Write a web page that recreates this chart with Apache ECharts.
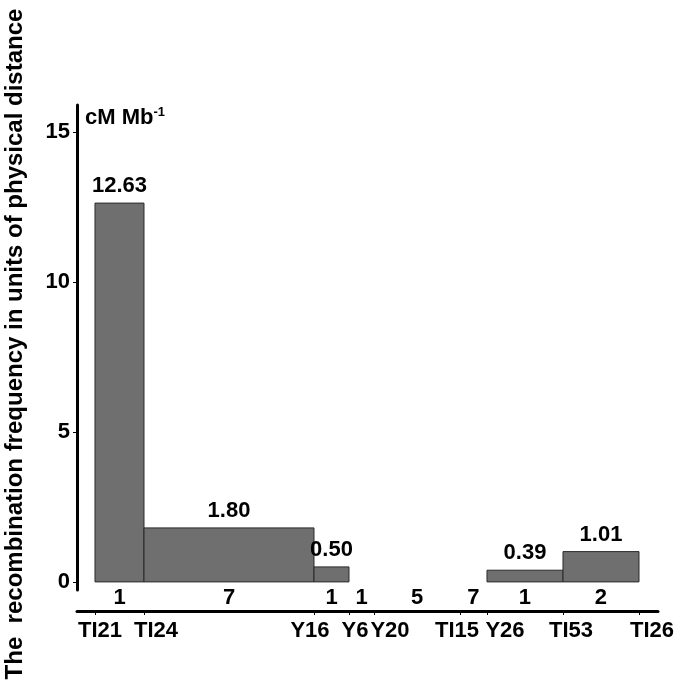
<!DOCTYPE html>
<html><head><meta charset="utf-8">
<script src="https://cdn.jsdelivr.net/npm/echarts@6/dist/echarts.min.js"></script>
<style>html,body{margin:0;padding:0;background:#fff}#c{width:677px;height:687px}</style>
</head><body><div id="c"></div>
<script>
// ---- data ----
const markers = ['TI21','TI24','Y16','Y6','Y20','TI15','Y26','TI53','TI26'];
const markerPos = [0, 49, 219, 254, 279, 365, 392, 468, 544];
const intervalCounts = [1, 7, 1, 1, 5, 7, 1, 2];
const barFrom = ['TI21','TI24','Y16','Y26','TI53'];
const barTo = ['TI24','Y16','Y6','TI53','TI26'];
const barValues = [12.63, 1.80, 0.50, 0.39, 1.01];
const barLabels = ['12.63','1.80','0.50','0.39','1.01'];
const yTicks = [0, 5, 10, 15];

// ---- styles ----
const FONT = '"Liberation Sans", Arial, sans-serif';
const labelNudge = [5, 12, -4, 6, 16, -3, 18, 8, 13];

const posOf = n => markerPos[markers.indexOf(n)];
const mids = intervalCounts.map((c, i) => (markerPos[i] + markerPos[i + 1]) / 2);
const barData = barValues.map((v, i) => [posOf(barFrom[i]), posOf(barTo[i]), v, barLabels[i]]);

const rich = {};
markers.forEach((m, i) => {
  const s = labelNudge[i];
  rich['m' + i] = {
    fontSize: 22, fontWeight: 'bold', fontFamily: FONT, color: '#000',
    padding: s >= 0 ? [0, 0, 0, 2 * s] : [0, -2 * s, 0, 0]
  };
});

const chart = echarts.init(document.getElementById('c'));
chart.setOption({
  animation: false,
  backgroundColor: '#fff',
  grid: { left: 77, right: 19, top: 105, bottom: 97, containLabel: false },
  xAxis: [
    {
      type: 'value', min: -18, max: 563, offset: 21, position: 'bottom',
      splitLine: { show: false },
      axisLine: { show: true, onZero: false, lineStyle: { color: '#000', width: 3 } },
      axisTick: { show: true, customValues: markerPos, length: 4, lineStyle: { color: '#000', width: 1 } },
      axisLabel: {
        show: true, customValues: markerPos, margin: 9,
        formatter: v => { const i = markerPos.indexOf(v); return '{m' + i + '|' + markers[i] + '}'; },
        rich: rich
      }
    },
    {
      type: 'value', min: -18, max: 563, offset: 0, position: 'bottom',
      splitLine: { show: false },
      axisLine: { show: false, onZero: false }, axisTick: { show: false },
      axisLabel: {
        show: true, customValues: mids, margin: -3,
        formatter: v => String(intervalCounts[mids.indexOf(v)]),
        fontSize: 22, fontWeight: 'bold', fontFamily: FONT, color: '#000'
      }
    }
  ],
  yAxis: {
    type: 'value', min: -0.27, max: 15.9,
    splitLine: { show: false },
    axisLine: { show: true, onZero: false, lineStyle: { color: '#000', width: 3 } },
    axisTick: { show: true, customValues: yTicks, length: 4, lineStyle: { color: '#000', width: 1 } },
    axisLabel: { customValues: yTicks, margin: 7, fontSize: 22, fontWeight: 'bold', fontFamily: FONT, color: '#000' }
  },
  graphic: [
    {
      type: 'text', x: 15, y: 344, rotation: Math.PI / 2,
      style: {
        text: 'The  recombination frequency in units of physical distance',
        font: 'bold 24px ' + FONT, fill: '#000', align: 'center', verticalAlign: 'middle'
      }
    },
    {
      type: 'text', x: 85, y: 106,
      style: {
        text: '{a|cM Mb}{b|-1}',
        rich: {
          a: { font: 'bold 22px ' + FONT, fill: '#000', color: '#000', verticalAlign: 'bottom' },
          b: { font: 'bold 13px ' + FONT, fill: '#000', color: '#000', verticalAlign: 'top', padding: [0, 0, 10, 0] }
        }
      }
    }
  ],
  series: [{
    type: 'custom',
    xAxisIndex: 0,
    clip: false,
    data: barData,
    renderItem: (params, api) => {
      const p0 = api.coord([api.value(0), api.value(2)]);
      const p1 = api.coord([api.value(1), 0]);
      return {
        type: 'group',
        children: [
          {
            type: 'rect',
            shape: { x: p0[0], y: p0[1], width: p1[0] - p0[0], height: p1[1] - p0[1] },
            style: { fill: '#6f6f6f', stroke: '#2a2a2a', lineWidth: 1 }
          },
          {
            type: 'text',
            x: (p0[0] + p1[0]) / 2, y: p0[1] - 6,
            style: {
              text: barLabels[params.dataIndex],
              font: 'bold 22px ' + FONT, fill: '#000', align: 'center', verticalAlign: 'bottom'
            }
          }
        ]
      };
    }
  }]
});
</script></body></html>
